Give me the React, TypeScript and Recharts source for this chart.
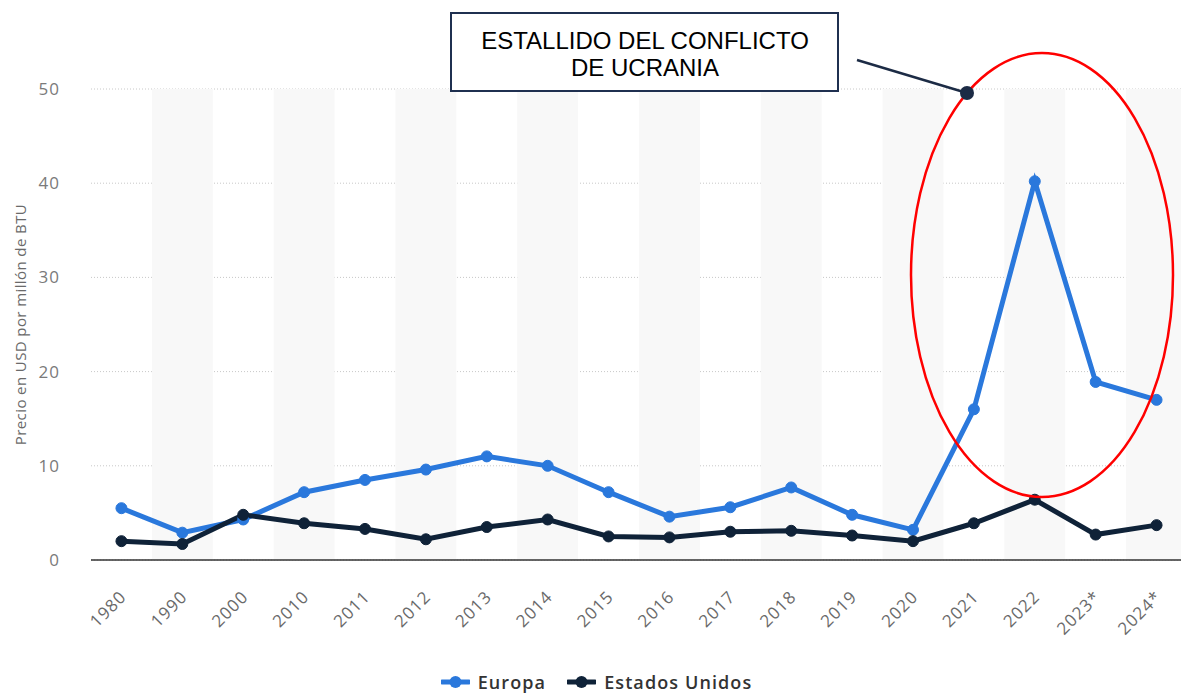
import React from "react";
import {
  LineChart,
  Line,
  XAxis,
  YAxis,
  CartesianGrid,
  ReferenceArea,
  Legend,
} from "recharts";

const years = ["1980", "1990", "2000", "2010", "2011", "2012", "2013", "2014", "2015", "2016", "2017", "2018", "2019", "2020", "2021", "2022", "2023*", "2024*"];
const europa = [5.5, 2.9, 4.3, 7.2, 8.5, 9.6, 11.0, 10.0, 7.2, 4.6, 5.6, 7.7, 4.8, 3.2, 16.0, 40.2, 18.9, 17.0];
const estadosUnidos = [2.0, 1.7, 4.8, 3.9, 3.3, 2.2, 3.5, 4.3, 2.5, 2.4, 3.0, 3.1, 2.6, 2.0, 3.9, 6.4, 2.7, 3.7];
const yTicks = [0, 10, 20, 30, 40, 50];

const data = years.map((y, i) => ({ year: y, europa: europa[i], usa: estadosUnidos[i] }));
const shaded = years.filter((_, i) => i % 2 === 1);

const BLUE = "#2a78dc";
const NAVY = "#0f2238";
const FONT = "'Open Sans', sans-serif";

const XTick = (props: any) => {
  const { x, y, payload } = props;
  const tx = x + 6;
  const ty = y + 30;
  return (
    <text
      x={tx}
      y={ty}
      transform={`rotate(-45, ${tx}, ${ty})`}
      textAnchor="end"
      fill="#6a6a6a"
      fontSize={17}
      letterSpacing={1}
      fontFamily={FONT}
    >
      {payload.value}
    </text>
  );
};

const YLabel = (props: any) => {
  const vb = props.viewBox || { x: 0, y: 0, width: 0, height: 0 };
  const cx = vb.x + 20;
  const cy = vb.y + vb.height / 2;
  return (
    <text
      x={cx}
      y={cy}
      transform={`rotate(-90, ${cx}, ${cy})`}
      textAnchor="middle"
      dominantBaseline="central"
      fill="#6a6a6a"
      fontSize={15}
      letterSpacing={0.4}
      fontFamily={FONT}
    >
      Precio en USD por millón de BTU
    </text>
  );
};

const LegendContent = () => {
  const items = [
    { label: "Europa", color: BLUE },
    { label: "Estados Unidos", color: NAVY },
  ];
  return (
    <div style={{ display: "flex", justifyContent: "center", alignItems: "center", gap: 21, paddingLeft: 12, height: 22 }}>
      {items.map((it) => (
        <div key={it.label} style={{ display: "flex", alignItems: "center", gap: 8, height: 22 }}>
          <svg width={29} height={14}>
            <line x1={1} y1={7} x2={28} y2={7} stroke={it.color} strokeWidth={5} strokeLinecap="round" />
            <circle cx={14.5} cy={7} r={6} fill={it.color} />
          </svg>
          <span
            style={{
              fontFamily: FONT,
              fontWeight: 600,
              fontSize: 18,
              lineHeight: "22px",
              letterSpacing: 1.1,
              color: "#333",
            }}
          >
            {it.label}
          </span>
        </div>
      ))}
    </div>
  );
};

export default function App() {
  return (
    <div style={{ position: "absolute", left: 0, top: 0, width: 1181, height: 693, overflow: "hidden", background: "#fff" }}>
      <LineChart width={1200} height={693} data={data} margin={{ top: 89, right: 13, left: 0, bottom: 0 }}>
        {shaded.map((y) => (
          <ReferenceArea key={y} x1={y} x2={y} y1={0} y2={50} fill="#f8f8f8" fillOpacity={1} stroke="none" ifOverflow="visible" />
        ))}
        <CartesianGrid vertical={false} stroke="#c8c8c8" strokeDasharray="1 2" />
        <XAxis
          dataKey="year"
          scale="band"
          height={111}
          tick={<XTick />}
          tickLine={false}
          axisLine={{ stroke: "#333", strokeWidth: 1.5 }}
          interval={0}
        />
        <YAxis
          width={91}
          domain={[0, 50]}
          ticks={yTicks}
          tickLine={false}
          axisLine={false}
          tickMargin={25}
          tick={{ fill: "#7a7a7a", fontSize: 17, letterSpacing: 1, fontFamily: FONT }}
          label={{ content: <YLabel /> }}
        />
        <Line
          dataKey="europa"
          name="Europa"
          stroke={BLUE}
          strokeWidth={5}
          dot={{ r: 5.5, fill: BLUE, stroke: BLUE, strokeWidth: 1 }}
          isAnimationActive={false}
        />
        <Line
          dataKey="usa"
          name="Estados Unidos"
          stroke={NAVY}
          strokeWidth={5}
          dot={{ r: 5.5, fill: NAVY, stroke: NAVY, strokeWidth: 1 }}
          isAnimationActive={false}
        />
        <Legend content={<LegendContent />} wrapperStyle={{ top: 671, left: 0, width: 1181, height: 22 }} />
      </LineChart>
      <svg width={1181} height={693} style={{ position: "absolute", left: 0, top: 0, pointerEvents: "none" }}>
        <ellipse cx={1042} cy={275} rx={131} ry={222} fill="none" stroke="#ff0000" strokeWidth={2.5} />
        <line x1={857} y1={60} x2={967} y2={93} stroke="#1c2b45" strokeWidth={2.5} />
        <circle cx={967} cy={93} r={7} fill="#1c2b45" />
        <rect x={451} y={13} width={387} height={78} fill="#fff" stroke="#1f3050" strokeWidth={2} />
        <text x={645} y={49} textAnchor="middle" fontFamily="'Liberation Sans', Arial, sans-serif" fontSize={24} fill="#000">
          ESTALLIDO DEL CONFLICTO
        </text>
        <text x={645} y={76} textAnchor="middle" fontFamily="'Liberation Sans', Arial, sans-serif" fontSize={24} fill="#000">
          DE UCRANIA
        </text>
      </svg>
    </div>
  );
}
